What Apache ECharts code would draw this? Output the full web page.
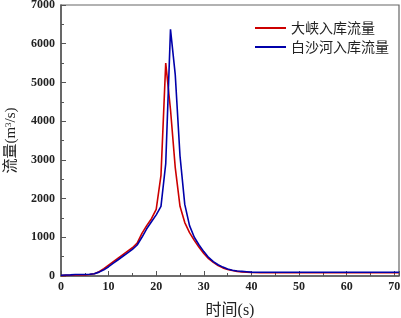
<!DOCTYPE html>
<html><head><meta charset="utf-8">
<script src="https://cdn.jsdelivr.net/npm/echarts@6/dist/echarts.min.js"></script>
<style>html,body{margin:0;padding:0;background:#fff}#c{width:401px;height:318px}</style>
</head><body><div id="c"></div>
<script>
var seriesNames = ['大峡入库流量', '白沙河入库流量'];
var timeS = [0,1,2,3,4,5,6,7,8,9,10,11,12,13,14,15,16,17,18,19,20,21,22,23,24,25,26,27,28,29,30,31,32,33,34,35,36,37,38,39,40,42,45,50,55,60,65,71];
var daxia = [10,15,20,25,30,30,40,60,110,190,280,370,460,550,640,730,850,1100,1300,1480,1720,2600,5500,4300,2800,1800,1380,1120,920,740,580,450,350,270,210,170,140,120,105,95,90,85,85,85,85,85,85,85];
var baisha = [20,25,30,40,40,40,45,60,100,160,240,330,420,510,600,690,800,1000,1220,1400,1580,1800,2900,6370,5200,3100,1850,1300,1000,800,630,480,370,290,230,180,150,130,120,110,100,95,95,95,95,95,95,95];
var xTicks = [0,10,20,30,40,50,60,70];

function pairs(xs, ys){ return xs.map(function(x,i){ return [x, ys[i]]; }); }

var serifFont = '"Liberation Serif","Times New Roman","Noto Sans CJK SC",serif';
var chart = echarts.init(document.getElementById('c'), null, {renderer:'canvas'});
chart.setOption({
  animation: false,
  backgroundColor: '#fff',
  grid: {left: 61, right: 2, top: 5, bottom: 42, containLabel: false, outerBoundsMode: 'none',
         show: true, borderColor: '#666', borderWidth: 1.2},
  legend: {
    orient: 'vertical', left: 250, top: 16, itemGap: 5,
    itemWidth: 31, itemHeight: 2, icon: 'rect',
    textStyle: {fontFamily: '"Noto Sans CJK SC",serif', fontSize: 14, color: '#222', padding: [0,0,0,0]},
    data: seriesNames
  },
  xAxis: {
    type: 'value', min: 0, max: 71, interval: 10,
    name: '时间(s)', nameLocation: 'middle', nameGap: 27,
    nameTextStyle: {fontFamily: serifFont, fontSize: 16, color: '#222'},
    axisLine: {show: true, lineStyle: {color: '#555', width: 1.5}},
    axisTick: {show: true, inside: true, length: 5, lineStyle: {color: '#555', width: 1}},
    minorTick: {show: true, splitNumber: 2, length: 3, lineStyle: {color: '#555', width: 1}},
    splitLine: {show: false},
    axisLabel: {showMaxLabel: false, margin: 5, fontFamily: serifFont, fontWeight: 'bold', fontSize: 12, color: '#222',
      formatter: function(v){ return xTicks.indexOf(v) >= 0 ? String(v) : ''; }}
  },
  yAxis: {
    type: 'value', min: 0, max: 7000, interval: 1000,
    name: '流量(m{sup|3}/s)', nameLocation: 'middle', nameGap: 42,
    nameTextStyle: {fontFamily: serifFont, fontSize: 15, color: '#222',
      rich: {sup: {fontSize: 9, verticalAlign: 'top', fontFamily: serifFont, color: '#222', padding: [0,0,6,0]}}},
    axisLine: {show: true, lineStyle: {color: '#555', width: 1.5}},
    axisTick: {show: true, inside: true, length: 5, lineStyle: {color: '#555', width: 1}},
    minorTick: {show: true, splitNumber: 2, length: 3, lineStyle: {color: '#555', width: 1}},
    splitLine: {show: false},
    axisLabel: {margin: 6, fontFamily: serifFont, fontWeight: 'bold', fontSize: 12, color: '#222',
      formatter: function(v){ return String(v); }}
  },
  series: [
    {name: seriesNames[0], type: 'line', data: pairs(timeS, daxia), showSymbol: false, symbol: 'none',
     lineStyle: {color: '#cc0000', width: 1.6}, itemStyle: {color: '#cc0000'}, z: 2},
    {name: seriesNames[1], type: 'line', data: pairs(timeS, baisha), showSymbol: false, symbol: 'none',
     lineStyle: {color: '#0000aa', width: 1.6}, itemStyle: {color: '#0000aa'}, z: 3}
  ]
});
</script></body></html>
